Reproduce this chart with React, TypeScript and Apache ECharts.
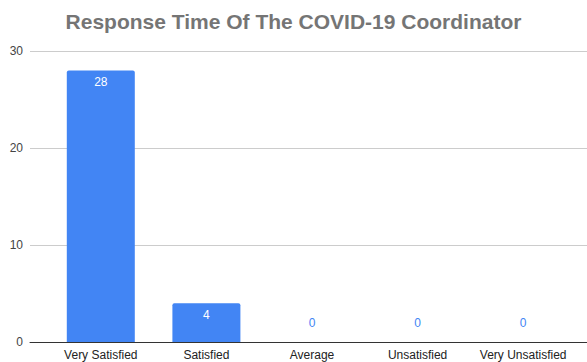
import React, { useEffect, useRef } from "react";
import * as echarts from "echarts";

const categories = ["Very Satisfied", "Satisfied", "Average", "Unsatisfied", "Very Unsatisfied"];
const values = [28, 4, 0, 0, 0];
const yTicks = { min: 0, max: 30, interval: 10 };

export default function App() {
  const ref = useRef<HTMLDivElement>(null);
  useEffect(() => {
    if (!ref.current) return;
    const chart = echarts.init(ref.current, undefined, { renderer: "svg" });
    const font = "Liberation Sans, Arial, sans-serif";
    chart.setOption({
      animation: false,
      title: {
        text: "Response Time Of The COVID-19 Coordinator",
        left: "center",
        top: 6,
        textStyle: { fontFamily: font, fontSize: 21, fontWeight: "bold", color: "#757575" },
      },
      grid: [
        { left: 30, right: 0, top: 51, bottom: 20 },
        { left: 48, right: 11, top: 51, bottom: 20 },
      ],
      xAxis: [
        {
          type: "value",
          gridIndex: 0,
          min: 0,
          max: 1,
          axisLine: { show: true, lineStyle: { color: "#333", width: 1 } },
          axisTick: { show: false },
          axisLabel: { show: false },
          splitLine: { show: false },
        },
        {
          type: "category",
          gridIndex: 1,
          data: categories,
          axisLine: { show: false },
          axisTick: { show: false },
          axisLabel: { fontFamily: font, fontSize: 12, color: "#222", margin: 7, interval: 0 },
        },
      ],
      yAxis: [
        {
          type: "value",
          gridIndex: 0,
          ...yTicks,
          axisLine: { show: false },
          axisTick: { show: false },
          axisLabel: { fontFamily: font, fontSize: 12, color: "#444", margin: 7 },
          splitLine: { lineStyle: { color: "#ccc", width: 1 } },
        },
        {
          type: "value",
          gridIndex: 1,
          ...yTicks,
          show: false,
          splitLine: { show: false },
        },
      ],
      series: [
        {
          type: "bar",
          xAxisIndex: 1,
          yAxisIndex: 1,
          barWidth: 68,
          itemStyle: { color: "#4285f4", borderRadius: [2, 2, 0, 0] },
          data: values.map((v) => ({
            value: v,
            label:
              v > 0
                ? { show: true, position: "insideTop", distance: 6, color: "#fff", fontFamily: font, fontSize: 12 }
                : { show: true, position: "top", distance: 13, color: "#4285f4", fontFamily: font, fontSize: 12 },
          })),
        },
      ],
    });
    return () => chart.dispose();
  }, []);
  return <div ref={ref} style={{ width: 587, height: 362, position: "absolute", left: 0, top: 0 }} />;
}
